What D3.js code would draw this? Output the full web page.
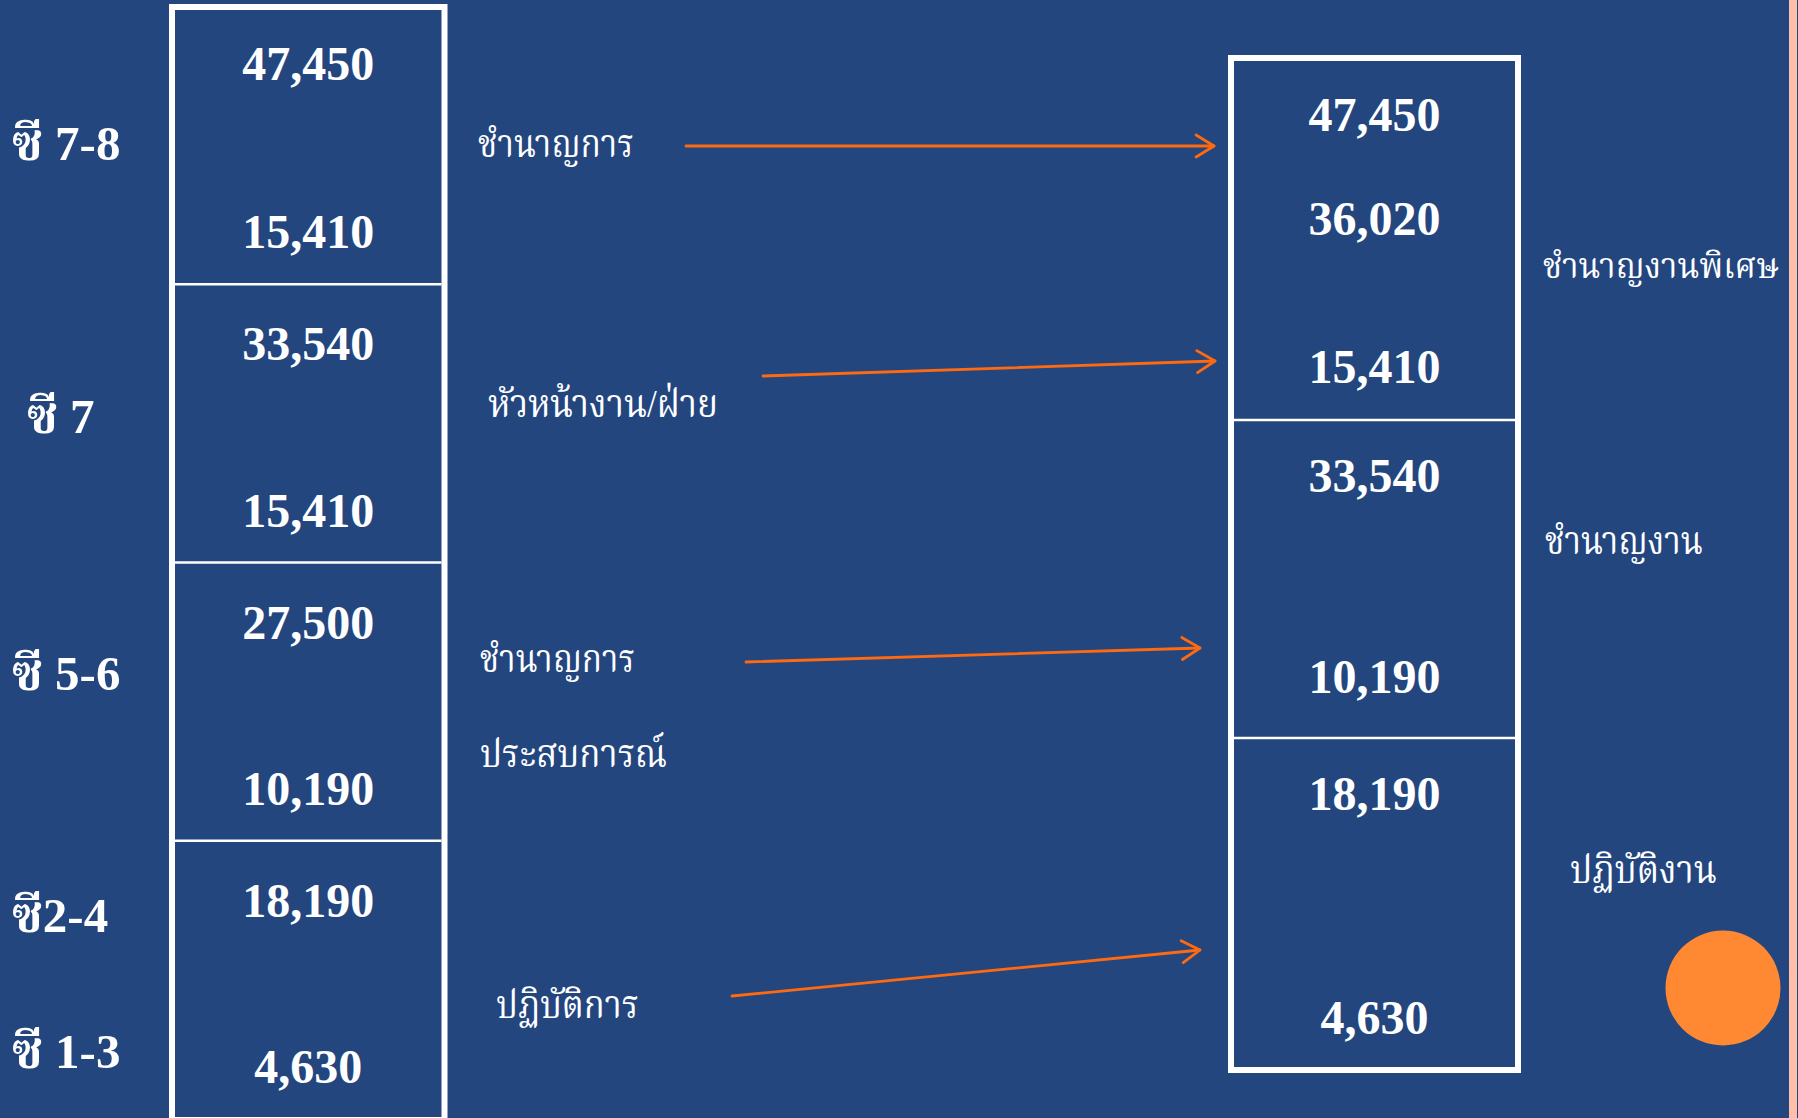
<!DOCTYPE html>
<meta charset="utf-8">
<script src="https://d3js.org/d3.v7.min.js"></script>
<style>
  body { margin: 0; background: #23467f; overflow: hidden; }
  svg { display: block; }
  text { font-family: "Liberation Serif", "Times New Roman", "Noto Serif Thai", "Noto Sans Thai", "Norasi", "Loma", serif; fill: #fff; }
</style>
<body>
<div id="canvas"></div>
<script>
    // ---- data ----------------------------------------------------
    var grades = ["ซี 7-8", "ซี 7", "ซี 5-6", "ซี2-4", "ซี 1-3"];
    // old scale, max / min per band (top to bottom)
    var oldMax = [47450, 33540, 27500, 18190];
    var oldMin = [15410, 15410, 10190, 4630];
    var oldTitles = ["ชำนาญการ", "หัวหน้างาน/ฝ่าย", "ชำนาญการ", "ประสบการณ์", "ปฏิบัติการ"];
    // new scale
    var newGroups = ["ชำนาญงานพิเศษ", "ชำนาญงาน", "ปฏิบัติงาน"];
    var newValues = [[47450, 36020, 15410], [33540, 10190], [18190, 4630]];

    var width = 1798;
    var height = 1118;
    var fmt = d3.format(",");

    var svg = d3.select("#canvas")
        .append("svg")
        .attr("width", width)
        .attr("height", height);

    svg.append("rect")
        .attr("width", width)
        .attr("height", height)
        .attr("fill", "#23467f");

    // pink stripe on the right edge
    svg.append("rect")
        .attr("x", 1789).attr("y", 0)
        .attr("width", 8).attr("height", height)
        .attr("fill", "#ffbfa8");

    // ---- left box ------------------------------------------------
    var yLeft = d3.scaleBand()
        .domain(d3.range(oldMax.length))
        .range([7, 1120])
        .paddingInner(0);

    var left = { x0: 172, x1: 444.5 };
    var cxLeft = (left.x0 + left.x1) / 2;

    var gl = svg.append("g");
    gl.append("rect")
        .attr("x", left.x0).attr("y", yLeft.range()[0])
        .attr("width", left.x1 - left.x0)
        .attr("height", yLeft.range()[1] - yLeft.range()[0])
        .attr("fill", "none")
        .attr("stroke", "#fff")
        .attr("stroke-width", 6);

    gl.selectAll(".div")
        .data(d3.range(1, oldMax.length))
        .enter()
        .append("line")
        .attr("x1", left.x0 + 3).attr("x2", left.x1 - 3)
        .attr("y1", function(d) { return yLeft(d) - 1; })
        .attr("y2", function(d) { return yLeft(d) - 1; })
        .attr("stroke", "#fff")
        .attr("stroke-width", 2.5);

    // numbers: top value near band top, bottom value near band bottom
    gl.selectAll(".max")
        .data(oldMax)
        .enter()
        .append("text")
        .attr("x", cxLeft)
        .attr("y", function(d, i) { return yLeft(i) + (i == 0 ? 73 : 75); })
        .attr("text-anchor", "middle")
        .style("font-size", "48px")
        .style("font-weight", "bold")
        .text(function(d) { return fmt(d); });

    gl.selectAll(".min")
        .data(oldMin)
        .enter()
        .append("text")
        .attr("x", cxLeft)
        .attr("y", function(d, i) { return yLeft(i) + yLeft.bandwidth() - 37; })
        .attr("text-anchor", "middle")
        .style("font-size", "48px")
        .style("font-weight", "bold")
        .text(function(d) { return fmt(d); });

    // grade labels
    var gradePos = [[12, 160], [27, 433], [12, 690], [12, 932], [12, 1068]];
    svg.selectAll(".grade")
        .data(grades)
        .enter()
        .append("text")
        .attr("x", function(d, i) { return gradePos[i][0]; })
        .attr("y", function(d, i) { return gradePos[i][1]; })
        .style("font-size", "49px")
        .style("font-weight", "bold")
        .text(function(d) { return d; });

    // old titles (middle)
    var titlePos = [[478, 157, 156], [488, 417, 230], [480, 672, 155], [480, 767, 187], [496, 1018, 143]];
    svg.selectAll(".title")
        .data(oldTitles)
        .enter()
        .append("text")
        .attr("x", function(d, i) { return titlePos[i][0]; })
        .attr("y", function(d, i) { return titlePos[i][1]; })
        .attr("textLength", function(d, i) { return titlePos[i][2]; })
        .attr("lengthAdjust", "spacingAndGlyphs")
        .style("font-size", "40px")
        .text(function(d) { return d; });

    // ---- right box -----------------------------------------------
    var right = { x0: 1231, x1: 1518 };
    var cxRight = (right.x0 + right.x1) / 2;
    var yRight = d3.scaleLinear().domain([0, 1]).range([58, 1070]);
    var edges = [0, 0.3577, 0.6719, 1];

    var gr = svg.append("g");
    gr.append("rect")
        .attr("x", right.x0).attr("y", yRight(0))
        .attr("width", right.x1 - right.x0)
        .attr("height", yRight(1) - yRight(0))
        .attr("fill", "none")
        .attr("stroke", "#fff")
        .attr("stroke-width", 6);

    gr.selectAll(".div")
        .data(edges.slice(1, 3))
        .enter()
        .append("line")
        .attr("x1", right.x0 + 3).attr("x2", right.x1 - 3)
        .attr("y1", function(d) { return yRight(d); })
        .attr("y2", function(d) { return yRight(d); })
        .attr("stroke", "#fff")
        .attr("stroke-width", 2.5);

    var numBase = [[131, 235, 383], [492, 693], [810, 1034]];
    newValues.forEach(function(vals, g) {
        gr.selectAll(".v" + g)
            .data(vals)
            .enter()
            .append("text")
            .attr("x", cxRight)
            .attr("y", function(d, i) { return numBase[g][i]; })
            .attr("text-anchor", "middle")
            .style("font-size", "48px")
            .style("font-weight", "bold")
            .text(function(d) { return fmt(d); });
    });

    var groupPos = [[1543, 278, 236, 36], [1545, 554, 158, 40], [1570, 883, 147, 40]];
    svg.selectAll(".group")
        .data(newGroups)
        .enter()
        .append("text")
        .attr("x", function(d, i) { return groupPos[i][0]; })
        .attr("y", function(d, i) { return groupPos[i][1]; })
        .attr("textLength", function(d, i) { return groupPos[i][2]; })
        .attr("lengthAdjust", "spacingAndGlyphs")
        .style("font-size", function(d, i) { return groupPos[i][3] + "px"; })
        .text(function(d) { return d; });

    // ---- arrows --------------------------------------------------
    var arrowColor = "#ff6a10";
    var arrows = [
        [[686, 146], [1214, 146]],
        [[763, 376], [1215, 361]],
        [[746, 662], [1200, 648]],
        [[732, 996], [1200, 950]]
    ];
    var ga = svg.append("g")
        .attr("stroke", arrowColor)
        .attr("stroke-width", 2.8)
        .attr("fill", "none")
        .attr("stroke-linecap", "round")
        .attr("stroke-linejoin", "round");

    arrows.forEach(function(a) {
        var p0 = a[0], p1 = a[1];
        ga.append("line")
            .attr("x1", p0[0]).attr("y1", p0[1])
            .attr("x2", p1[0]).attr("y2", p1[1]);
        var ang = Math.atan2(p1[1] - p0[1], p1[0] - p0[0]);
        var len = 21, spread = 0.55;
        var h1 = [p1[0] - len * Math.cos(ang - spread), p1[1] - len * Math.sin(ang - spread)];
        var h2 = [p1[0] - len * Math.cos(ang + spread), p1[1] - len * Math.sin(ang + spread)];
        ga.append("path")
            .attr("d", d3.line()([h1, p1, h2]));
    });

    // orange dot
    svg.append("circle")
        .attr("cx", 1723).attr("cy", 988).attr("r", 57.5)
        .attr("fill", "#ff8833");
</script>
</body>
